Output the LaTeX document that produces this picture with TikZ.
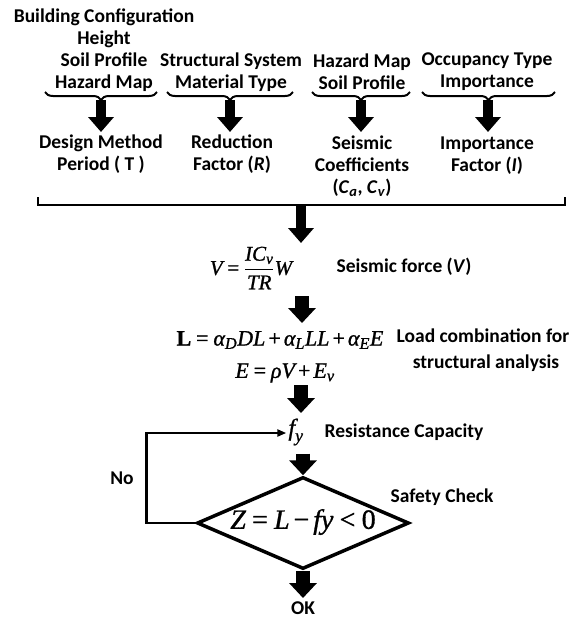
\documentclass[tikz,border=0pt]{standalone}
\usepackage{amsmath}
\usepackage{mathptmx}
\usepackage{fontspec}
\setmainfont{Carlito}
\newfontfamily\eqfont{Liberation Serif}[FakeBold=1]
\newcommand\ei[1]{\text{\eqfont\itshape #1}}
\newcommand\eu[1]{\text{\eqfont #1}}
\newcommand\eqrel[1]{\mathrel{\eu{#1}}}
\newcommand\eqbin[1]{\mathbin{\eu{#1}}}
\usetikzlibrary{arrows.meta,decorations.pathreplacing,shapes.geometric}

\begin{document}
\begin{tikzpicture}[x=1pt,y=-1pt,
  lbl/.style={font=\fontsize{19.5}{22}\selectfont\bfseries, inner sep=0pt, align=center},
  eq/.style={inner sep=0pt},
  fatthin/.style={line width=10pt, -{Triangle[width=25pt,length=15pt]}},
  fat/.style={line width=14pt, -{Triangle[width=27pt,length=15pt]}},
  ubrace/.style={decorate, decoration={brace, mirror, amplitude=8pt}, line width=2pt},
  frame/.style={line width=2.4pt},
  back/.style={line width=2.5pt, -{Triangle[length=9pt,width=7pt]}},
  check/.style={diamond, draw, line width=3.5pt, inner sep=0pt,
    minimum width=212pt, minimum height=92pt, shape aspect=2.3}]
\useasboundingbox (0,0) rectangle (578,619);

% parameter groups
\node[lbl] (t1) at (104,50) {Building Configuration\\Height\\Soil Profile\\Hazard Map};
\node[lbl] (t2) at (231,72) {Structural System\\Material Type};
\node[lbl] (t3) at (362,72) {Hazard Map\\Soil Profile};
\node[lbl] (t4) at (487,72) {Occupancy Type\\Importance};

% braces under each group
\draw[ubrace] (45,92) -- (157,92);
\draw[ubrace] (167,92) -- (293,92);
\draw[ubrace] (312,92) -- (410,92);
\draw[ubrace] (422,92) -- (555,92);
\coordinate (c1) at (101,100);
\coordinate (c2) at (230,100);
\coordinate (c3) at (361,100);
\coordinate (c4) at (488,100);

% derived quantities
\node[lbl] (m1) at (101,154) {Design Method\\Period ( T )};
\node[lbl] (m2) at (232,154) {Reduction\\Factor (\textit{R})};
\node[lbl] (m3) at (362,166) {Seismic\\Coefficients\\(\textit{C}\textsubscript{\textit{a}}, \textit{C}\textsubscript{\textit{v}})};
\node[lbl] (m4) at (487,156) {Importance\\Factor (\textit{I})};

\draw[fatthin] (c1) -- (c1 |- 0,132);
\draw[fatthin] (c2) -- (c2 |- 0,132);
\draw[fatthin] (c3) -- (c3 |- 0,132);
\draw[fatthin] (c4) -- (c4 |- 0,132);

% collecting bracket
\draw[frame] (38,197) -- (38,205) -- (565,205) -- (565,197);
\coordinate (bk) at (301,204);
\coordinate (vtop) at (301,243);

% seismic force
\node[eq] (veq) at (251,268) {\fontsize{21}{24}\selectfont$\displaystyle \ei{V}\eqrel{=}\frac{\ei{IC}_{\ei{v}}}{\ei{TR}}\ei{W}$};
\node[lbl] (vlab) at (404,267) {Seismic force (\textit{V})};
\draw[fatthin] (bk) -- (vtop);

% load combination
\coordinate (v2s) at (302,296);
\coordinate (v2e) at (302,323);
\draw[fat] (v2s) -- (v2e);
\node[eq] (leq) at (280,340) {\fontsize{22}{24}\selectfont$\eu{\textbf{L}}\eqrel{=}\ei{α}_{\ei{D}}\ei{DL}\eqbin{+}\ei{α}_{\ei{L}}\ei{LL}\eqbin{+}\ei{α}_{\ei{E}}\ei{E}$};
\node[eq] (eeq) at (285,373) {\fontsize{22}{24}\selectfont$\ei{E}\eqrel{=}\ei{ρV}\eqbin{+}\ei{E}_{\ei{v}}$};
\node[lbl, font=\fontsize{19.5}{26}\selectfont\bfseries] (llab) at (483,350) {Load combination for\\\hspace*{6pt}structural analysis};

% resistance
\coordinate (e2s) at (301,385);
\node[eq] (fy) at (296,432) {\fontsize{24}{26}\selectfont$\ei{f}_{\ei{y}}$};
\node[lbl] (rlab) at (404,432) {Resistance Capacity};
\draw[fat] (e2s) -- (e2s |- 0,413);

% safety check
\node[check] (dia) at (303,523) {};
\node[eq] (zeq) at (303,522) {\fontsize{28}{30}\selectfont$\ei{Z}\eqrel{=}\ei{L}\eqbin{−}\ei{fy}\eqrel{<}\eu{0}$};
\node[lbl] (slab) at (442,497) {Safety Check};
\draw[fat] (fy.south -| dia.north) ++(0,8) -- (dia.north);
\draw[back] (dia.west) -- ++(-49,0) |- ([xshift=-2pt]fy.west |- 0,433);
\node[lbl] (no) at (122,478) {No};

% outcome
\node[lbl] (ok) at (303,608) {OK};
\draw[fat] (dia.south) -- (dia.south |- 0,598);
\end{tikzpicture}
\end{document}
